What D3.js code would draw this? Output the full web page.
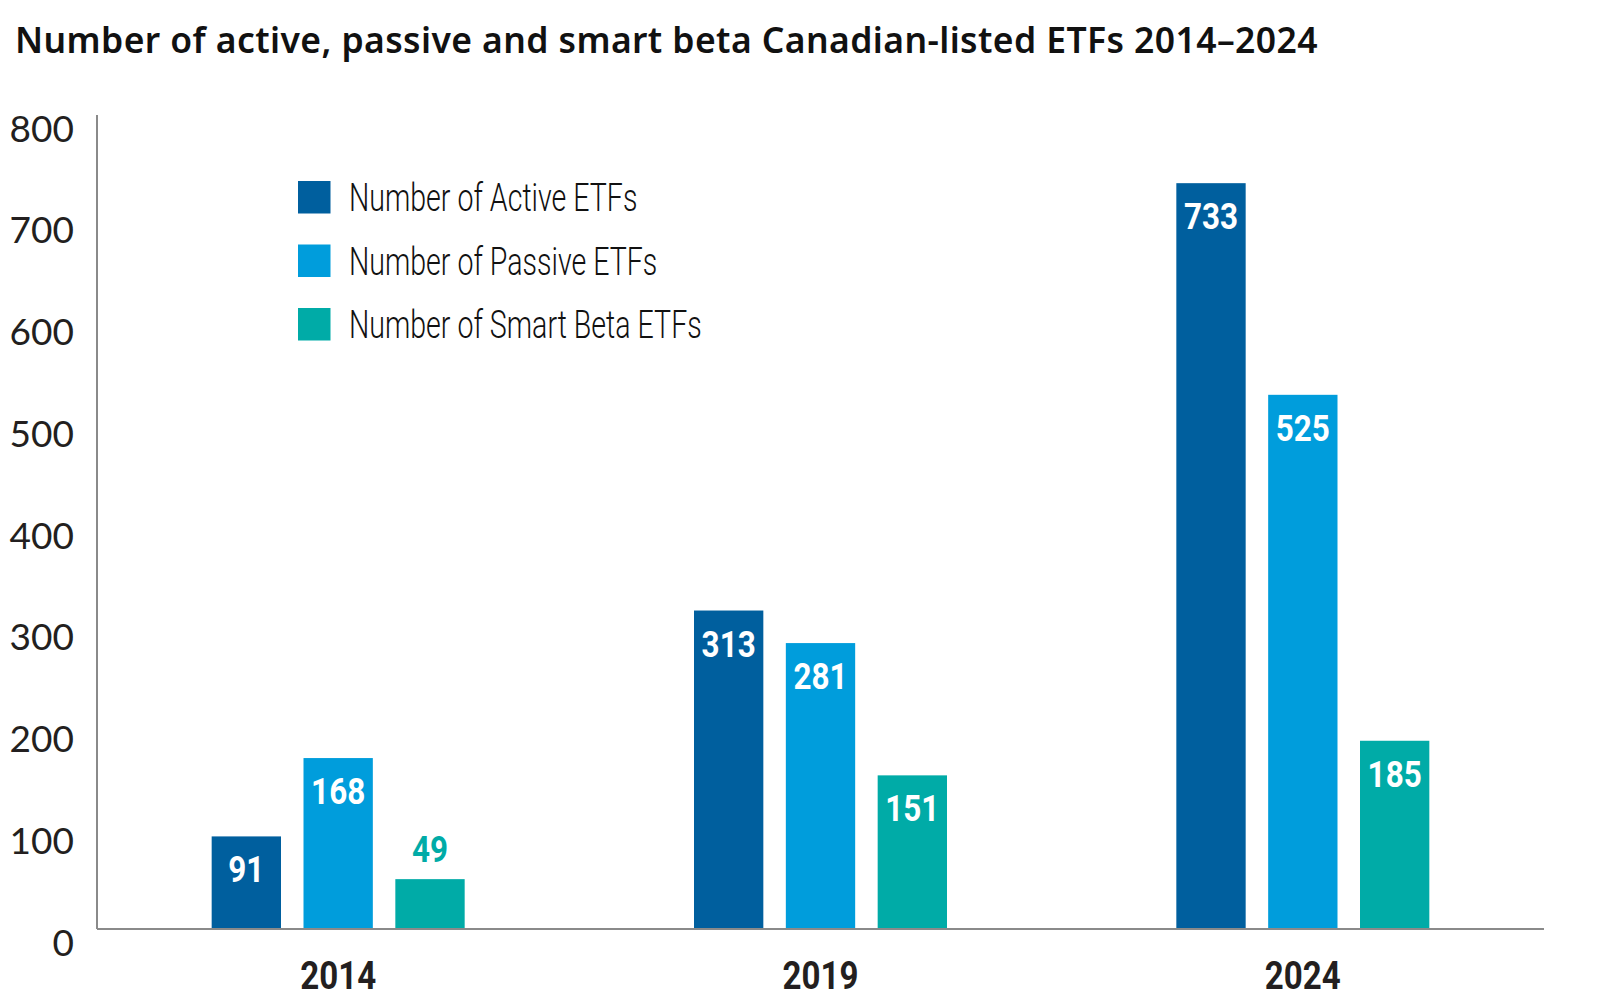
<!DOCTYPE html>
<html>
<head>
<meta charset="utf-8">
<script src="https://cdn.jsdelivr.net/npm/d3@7"></script>
<style>
  body { margin: 0; background: #fff; }
  svg text { font-family: Roboto, "Liberation Sans", sans-serif; }
</style>
</head>
<body>
<svg id="chart" width="1598" height="1001"></svg>
<script>
const years = ['2014', '2019', '2024']
const seriesNames = ['Number of Active ETFs', 'Number of Passive ETFs', 'Number of Smart Beta ETFs']
const activeEtfs = [91, 313, 733]
const passiveEtfs = [168, 281, 525]
const smartBetaEtfs = [49, 151, 185]
const yTicks = [0, 100, 200, 300, 400, 500, 600, 700, 800]
const colors = ['#005f9e', '#009ddc', '#00aba7']

const svg = d3.select('#chart')
const plot = { left: 97, right: 1544, top: 115, bottom: 929 }

const x = d3.scaleBand().domain(years).range([plot.left, plot.right])
const y = d3.scaleLinear().domain([0, 800]).range([plot.bottom, plot.top])
const groupWidth = 253
const inner = d3.scaleBand().domain(seriesNames).range([0, groupWidth]).paddingInner(0.245)

const table = years.map((yr, i) => ({
  year: yr,
  values: [activeEtfs[i], passiveEtfs[i], smartBetaEtfs[i]]
}))

// condensed look: squeeze a normal face horizontally
function squeeze (sel, sx) {
  sel.attr('transform', function () {
    const t = d3.select(this)
    const px = +t.attr('x'), py = +t.attr('y')
    return `translate(${px},${py}) scale(${sx},1) translate(${-px},${-py})`
  })
}

// title
svg.append('text')
  .attr('x', 15).attr('y', 53)
  .style('font-family', '"Noto Sans", Lato, sans-serif')
  .attr('font-weight', 600)
  .attr('font-size', 35.5)
  .attr('letter-spacing', 0.4)
  .attr('fill', '#111')
  .text('Number of active, passive and smart beta Canadian-listed ETFs 2014–2024')

// y tick labels (text top sits on the value)
svg.append('g').selectAll('text')
  .data(yTicks)
  .join('text')
  .attr('x', 74)
  .attr('y', d => y(d))
  .attr('dy', '0.72em')
  .attr('text-anchor', 'end')
  .style('font-family', 'Lato, "Noto Sans", sans-serif')
  .attr('font-weight', 400)
  .attr('font-size', 37)
  .attr('fill', '#231f20')
  .text(d => d)

// bars
const groups = svg.append('g').selectAll('g')
  .data(table)
  .join('g')
  .attr('transform', d => `translate(${x(d.year) + x.bandwidth() / 2 - groupWidth / 2},0)`)

groups.selectAll('rect')
  .data(d => d.values.map((v, j) => ({ v, j })))
  .join('rect')
  .attr('x', d => inner(seriesNames[d.j]))
  .attr('width', inner.bandwidth())
  .attr('y', d => y(d.v))
  .attr('height', d => y(0) - y(d.v))
  .attr('fill', d => colors[d.j])

const fitsInside = d => y(0) - y(d.v) > 60
groups.selectAll('text')
  .data(d => d.values.map((v, j) => ({ v, j })))
  .join('text')
  .attr('x', d => inner(seriesNames[d.j]) + inner.bandwidth() / 2)
  .attr('y', d => (fitsInside(d) ? y(d.v) + 46 : y(d.v) - 17))
  .attr('text-anchor', 'middle')
  .attr('font-weight', 700)
  .attr('font-size', 37)
  .attr('fill', d => (fitsInside(d) ? '#fff' : colors[d.j]))
  .text(d => d.v)
  .call(squeeze, 0.85)

// axis lines
svg.append('line')
  .attr('x1', plot.left).attr('x2', plot.left)
  .attr('y1', y(800)).attr('y2', y(0))
  .attr('stroke', '#8a8a8a').attr('stroke-width', 2)
svg.append('line')
  .attr('x1', plot.left).attr('x2', plot.right)
  .attr('y1', y(0)).attr('y2', y(0))
  .attr('stroke', '#8a8a8a').attr('stroke-width', 2)

// x labels
svg.append('g').selectAll('text')
  .data(years)
  .join('text')
  .attr('x', d => x(d) + x.bandwidth() / 2)
  .attr('y', 989)
  .attr('text-anchor', 'middle')
  .attr('font-weight', 700)
  .attr('font-size', 38.5)
  .attr('fill', '#231f20')
  .text(d => d)
  .call(squeeze, 0.86)

// legend
const legend = svg.append('g').selectAll('g')
  .data(seriesNames)
  .join('g')
  .attr('transform', (d, i) => `translate(298,${181 + i * 63.5})`)
legend.append('rect')
  .attr('width', 32.5).attr('height', 32.5)
  .attr('fill', (d, i) => colors[i])
legend.append('text')
  .attr('x', 51).attr('y', 30)
  .attr('font-weight', 300)
  .attr('font-size', 38.5)
  .attr('fill', '#111')
  .text(d => d)
  .call(squeeze, 0.742)
</script>
</body>
</html>
